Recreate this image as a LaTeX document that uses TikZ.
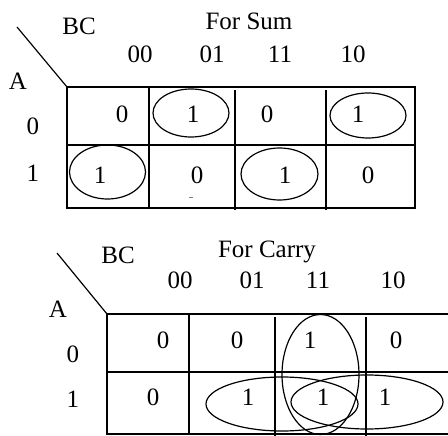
\documentclass[tikz,border=0pt]{standalone}
\usepackage{fontspec}
\setmainfont{Liberation Serif}
\begin{document}
\begin{tikzpicture}[x=1pt,y=-1pt,
  txt/.style={inner sep=0pt, anchor=base, font=\fontsize{25}{29}\selectfont},
  kmline/.style={line width=1.7pt},
  ringline/.style={line width=1.2pt}]
\useasboundingbox (0,0) rectangle (448,436);
% ---------- Sum map ----------
\coordinate (s1) at (17,27);
\coordinate (s2) at (67,87);
\draw[ringline] (s1) -- (s2);
\draw[kmline] (67,87) rectangle (415,208);
\draw[kmline] (67,145) -- (415,145);
\draw[kmline] (149,87) -- (149,208);
\draw[kmline] (235,90) -- (235,210);
\draw[kmline] (326,90) -- (326,210);
\node[txt] (sbc) at (79,35) {BC};
\node[txt] (stitle) at (249,29.5) {For Sum};
\node[txt] (sh0) at (140,62.5) {00};
\node[txt] (sh1) at (212,62.5) {01};
\node[txt] (sh2) at (280,62.5) {11};
\node[txt] (sh3) at (353,62.5) {10};
\node[txt] (sa) at (18,90) {A};
\node[txt] (sr0) at (33,135) {0};
\node[txt] (sr1) at (33,182) {1};
\node[txt] (s00) at (122,123) {0};
\node[txt] (s01) at (193,123) {1};
\node[txt] (s02) at (267,123) {0};
\node[txt] (s03) at (358,123) {1};
\node[txt] (s10) at (100,183) {1};
\node[txt] (s11) at (197,183) {0};
\node[txt] (s12) at (285,183) {1};
\node[txt] (s13) at (368,183) {0};
\draw[gray, line width=0.8pt] (189,197.5) -- (193,197.5);
\draw[ringline] (191,113) ellipse [x radius=38, y radius=24];
\draw[ringline] (368,115.5) ellipse [x radius=38, y radius=22.5];
\draw[ringline] (107.5,172) ellipse [x radius=38, y radius=27];
\draw[ringline] (279.5,174) ellipse [x radius=38.5, y radius=26];
% ---------- Carry map ----------
\coordinate (c1) at (57,253);
\coordinate (c2) at (107,314);
\draw[ringline] (c1) -- (c2);
\draw[kmline] (448,314) -- (107,314) -- (107,434) -- (448,434);
\draw[kmline] (107,372) -- (448,372);
\draw[kmline] (189,314) -- (189,434);
\draw[kmline] (275,317) -- (275,436);
\draw[kmline] (366,317) -- (366,436);
\node[txt] (cbc) at (118,263) {BC};
\node[txt] (ctitle) at (267,257) {For Carry};
\node[txt] (ch0) at (180,288) {00};
\node[txt] (ch1) at (252,288) {01};
\node[txt] (ch2) at (318,288) {11};
\node[txt] (ch3) at (393,288) {10};
\node[txt] (ca) at (58,317) {A};
\node[txt] (cr0) at (73,362) {0};
\node[txt] (cr1) at (73,407) {1};
\node[txt] (c00) at (163,348) {0};
\node[txt] (c01) at (237,348) {0};
\node[txt] (c02) at (310,348) {1};
\node[txt] (c03) at (396,348) {0};
\node[txt] (c10) at (153,405) {0};
\node[txt] (c11) at (248,405) {1};
\node[txt] (c12) at (323,405) {1};
\node[txt] (c13) at (385,405) {1};
\draw[ringline] (320.5,374.5) ellipse [x radius=38.5, y radius=60];
\draw[ringline] (282,404) ellipse [x radius=76, y radius=27];
\draw[ringline] (367,402) ellipse [x radius=76, y radius=27];
\end{tikzpicture}
\end{document}
